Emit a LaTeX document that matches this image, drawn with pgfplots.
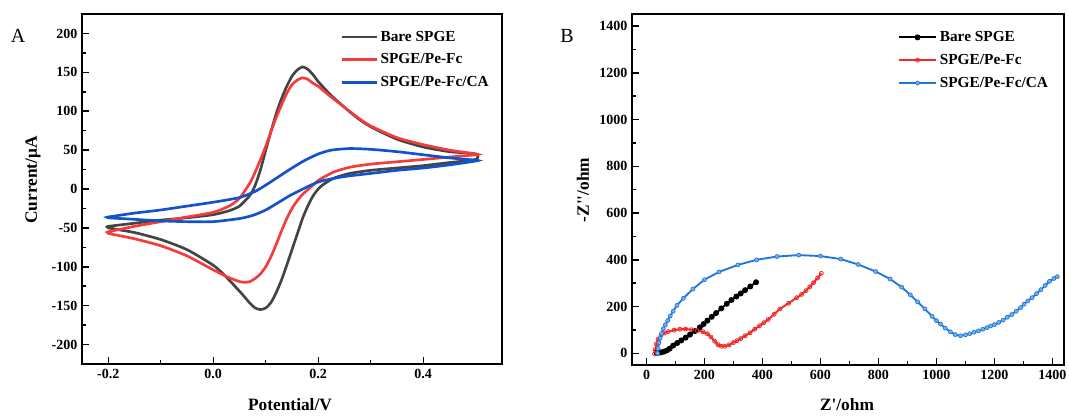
\documentclass[border=0pt]{standalone}
\usepackage{fontspec}
\setmainfont{Liberation Serif}
\usepackage{pgfplots}
\pgfplotsset{compat=1.18}

\definecolor{cvgray}{RGB}{68,68,68}
\definecolor{cvred}{RGB}{245,60,60}
\definecolor{cvblue}{RGB}{18,82,205}
\definecolor{eisred}{RGB}{240,40,40}
\definecolor{eisblue}{RGB}{30,120,220}

\pgfplotsset{
  panel/.style={
    scale only axis,
    axis line style={line width=1.4pt},
    tick align=inside,
    xtick pos=bottom, ytick pos=left,
    major tick length=5.5pt, minor tick length=3pt,
    every tick/.style={black, line width=1.1pt},
    minor x tick num=1, minor y tick num=1,
    tick label style={font=\bfseries\fontsize{10.5}{12}\selectfont},
    /pgf/number format/assume math mode=true,
    /pgf/number format/1000 sep={},
    legend cell align=left,
    legend style={draw=none, fill=none, inner sep=0pt,
      font=\bfseries\fontsize{11.5}{13}\selectfont,
      row sep=4pt, anchor=north west},
  },
  cv/.style={line width=2pt, smooth, tension=0.4},
  eis/.style={line width=1.4pt, mark size=1.5pt},
}

\begin{document}
\begin{tikzpicture}
\path[use as bounding box] (0,0) rectangle (801.75pt,312pt);

% ---- A: cyclic voltammetry
\begin{axis}[panel,
  at={(61.5pt,39pt)}, anchor=south west,
  width=315pt, height=262.5pt,
  xmin=-0.25, xmax=0.55, ymin=-225, ymax=225,
  xtick={-0.2,0,0.2,0.4}, ytick={-200,-150,...,200},
  xticklabel style={/pgf/number format/.cd, fixed, fixed zerofill, precision=1},
  legend style={at={(0.615,0.96)}},
  legend image code/.code={\draw[#1,line width=2pt] (0pt,0pt) -- (26pt,0pt);},
]
\addplot[cv, cvgray] coordinates {
(-0.2,-48) (-0.15,-44) (-0.1,-40) (-0.05,-37) (0.0,-33) (0.03,-28) (0.05,-22)
(0.07,-8) (0.08,5) (0.09,25) (0.1,50) (0.11,74) (0.12,97) (0.13,116)
(0.14,132) (0.15,145) (0.16,153) (0.17,157) (0.18,154) (0.19,147)
(0.2,138) (0.225,120) (0.25,105) (0.275,91) (0.3,80) (0.35,64)
(0.4,54) (0.45,48) (0.5,45)
(0.5,38) (0.45,34) (0.4,30) (0.35,27) (0.3,24) (0.26,20) (0.23,14) (0.21,6)
(0.2,0) (0.19,-9) (0.18,-22) (0.17,-38) (0.16,-58) (0.15,-78) (0.14,-98)
(0.13,-117) (0.12,-133) (0.11,-146) (0.1,-153) (0.09,-155) (0.08,-153)
(0.07,-147) (0.06,-139) (0.04,-124) (0.02,-110) (0.0,-98) (-0.05,-78)
(-0.1,-65) (-0.15,-56) (-0.2,-50) (-0.2,-48)
};
\addplot[cv, cvred] coordinates {
(-0.2,-55) (-0.15,-48) (-0.1,-42) (-0.05,-36) (0.0,-30) (0.03,-22) (0.05,-12)
(0.07,8) (0.08,22) (0.09,38) (0.1,55) (0.11,74) (0.12,92) (0.13,108)
(0.14,123) (0.15,134) (0.16,140) (0.17,143) (0.18,141) (0.19,136)
(0.2,132) (0.225,118) (0.25,105) (0.275,92) (0.3,81) (0.35,66) (0.4,57)
(0.45,50) (0.5,45)
(0.5,44) (0.45,41) (0.4,38) (0.35,35) (0.3,32) (0.26,28) (0.23,22) (0.21,15)
(0.2,11) (0.19,5) (0.18,-1) (0.17,-7) (0.16,-15) (0.15,-25) (0.14,-38)
(0.13,-54) (0.12,-71) (0.11,-87) (0.1,-100) (0.09,-109) (0.08,-115)
(0.07,-119) (0.06,-120) (0.05,-119) (0.03,-114) (0.0,-104) (-0.05,-86)
(-0.1,-73) (-0.15,-64) (-0.2,-57) (-0.2,-55)
};
\addplot[cv, cvblue] coordinates {
(-0.2,-36) (-0.15,-31) (-0.1,-27) (-0.05,-22) (0.0,-17) (0.05,-11) (0.08,-3)
(0.1,5) (0.125,16) (0.15,27) (0.175,37) (0.2,45) (0.225,50) (0.26,52)
(0.3,51) (0.35,48) (0.4,44) (0.45,40) (0.5,37)
(0.5,36) (0.45,31) (0.4,27) (0.35,24) (0.3,20) (0.25,16) (0.2,9) (0.15,-7)
(0.125,-17) (0.1,-27) (0.075,-34) (0.05,-38) (0.0,-42) (-0.05,-42)
(-0.1,-41) (-0.15,-39) (-0.2,-37) (-0.2,-36)
};
\legend{Bare SPGE, SPGE/Pe-Fc, SPGE/Pe-Fc/CA}
\end{axis}

% ---- B: impedance
\begin{axis}[panel,
  at={(474pt,38.25pt)}, anchor=south west,
  width=324pt, height=263pt,
  xmin=-50, xmax=1440, ymin=-50, ymax=1450,
  xtick={0,200,...,1400}, ytick={0,200,...,1400},
  legend style={at={(0.615,0.96)}},
  legend image code/.code={\draw[mark repeat=2,mark phase=2,#1]
    plot coordinates {(0pt,0pt) (14pt,0pt) (28pt,0pt)};},
]
\addplot[eis, black, mark=*] coordinates {
(35,2) (42,3) (50,4) (60,7) (70,12) (80,20) (92,33) (106,44) (120,55)
(135,67) (150,80) (167,95) (184,111) (197,125) (210,140) (225,156)
(240,172) (258,192) (277,212) (293,228) (310,243) (325,256) (340,270)
(358,286) (378,304)
};
\addplot[eis, eisred, mark=o, mark options={line width=0.6pt}] coordinates {
(28,-3) (30,15) (34,40) (40,60) (50,76) (62,87) (75,93) (95,99) (115,103)
(135,104) (155,101) (175,97) (195,92) (210,84) (222,70) (235,52) (246,37)
(258,30) (270,30) (285,36) (300,46) (312,54) (325,63) (340,75) (357,88)
(373,103) (390,118) (405,131) (420,145) (440,167) (460,190) (490,214)
(518,238) (535,252) (550,268) (563,284) (576,302) (590,322) (603,342)
};
\addplot[eis, eisblue, mark=*, mark options={fill=eisblue!60!white, line width=0.5pt}] coordinates {
(38,0) (40,20) (43,45) (47,65) (52,85) (58,105) (65,122) (73,140) (82,160)
(92,180) (105,205) (127,235) (160,275) (200,315) (250,348) (315,378)
(380,400) (450,414) (525,420) (600,416) (670,403) (730,380) (790,350)
(840,318) (880,283) (910,250) (935,220) (960,190) (985,158) (1000,140)
(1014,125) (1030,108) (1048,92) (1065,80) (1083,75) (1100,79) (1115,84)
(1129,90) (1145,96) (1160,103) (1175,110) (1187,117) (1200,123)
(1215,132) (1230,142) (1244,154) (1260,166) (1275,180) (1290,195)
(1302,210) (1315,224) (1330,238) (1345,255) (1360,272) (1375,290)
(1390,308) (1405,320) (1417,328)
};
\legend{Bare SPGE, SPGE/Pe-Fc, SPGE/Pe-Fc/CA}
\end{axis}

% labels and panel letters
\node[font=\bfseries\fontsize{13}{15}\selectfont] at (217.5pt,8.5pt) {Potential/V};
\node[font=\bfseries\fontsize{13}{15}\selectfont, rotate=90] at (24.75pt,177pt) {Current/μA};
\node[font=\bfseries\fontsize{13}{15}\selectfont] at (635.25pt,8.5pt) {Z\textquotesingle/ohm};
\node[font=\bfseries\fontsize{13}{15}\selectfont, rotate=90] at (437.25pt,169.5pt) {-Z\textquotesingle\textquotesingle/ohm};
\node[font=\fontsize{15}{17}\selectfont] at (13.5pt,285pt) {A};
\node[font=\fontsize{15}{17}\selectfont] at (425.25pt,285pt) {B};
\end{tikzpicture}
\end{document}
